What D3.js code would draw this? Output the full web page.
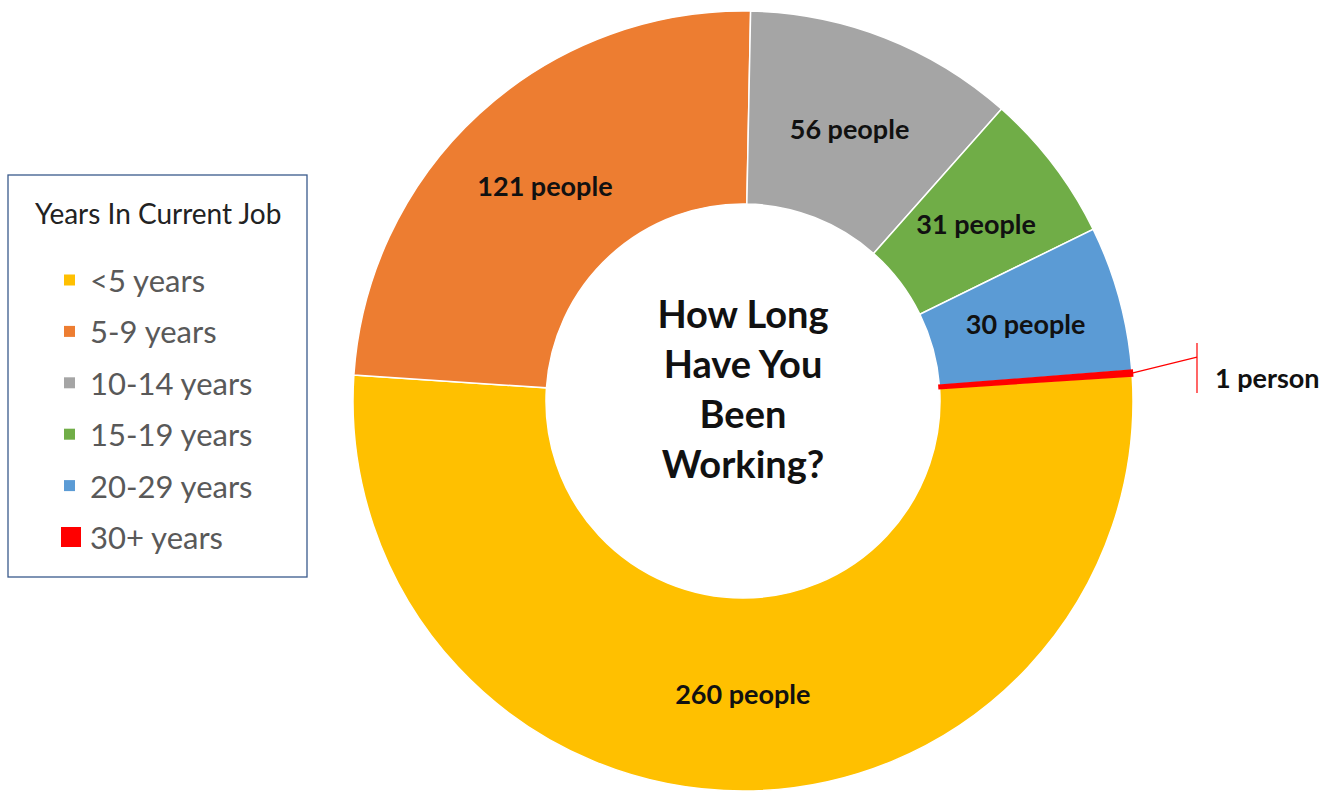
<!DOCTYPE html>
<html>
<head>
<meta charset="utf-8">
<script src="https://cdn.jsdelivr.net/npm/d3@7"></script>
<style>
  body { margin: 0; background: #fff; }
  svg { display: block; font-family: Lato, "Open Sans", sans-serif; }
</style>
</head>
<body>
<svg id="donut"></svg>
<script>
// chart data
const categories = ['<5 years', '5-9 years', '10-14 years', '15-19 years', '20-29 years', '30+ years'];
const counts = [260, 121, 56, 31, 30, 1];
const colors = ['#FFC000', '#ED7D31', '#A5A5A5', '#70AD47', '#5B9BD5', '#FF0000'];
const legendTitle = 'Years In Current Job';
const centerTitle = ['How Long', 'Have You', 'Been', 'Working?'];

const width = 1339;
const height = 792;
const cx = 743, cy = 401;
const outerR = 390, innerR = 197;
const firstAngle = 86.25 * Math.PI / 180; // first slice starts just above 3 o'clock

const svg = d3.select('#donut').attr('width', width).attr('height', height);

const rows = categories.map((c, i) => ({ cat: c, n: counts[i] }));
const color = d3.scaleOrdinal().domain(categories).range(colors);

const pie = d3.pie()
  .value(d => d.n)
  .sort(null)
  .startAngle(firstAngle)
  .endAngle(firstAngle + 2 * Math.PI);

const arc = d3.arc().innerRadius(innerR).outerRadius(outerR);
const labelArc = d3.arc().innerRadius(293).outerRadius(293);

const g = svg.append('g').attr('transform', `translate(${cx},${cy})`);
const slices = pie(rows);

g.selectAll('path.slice')
  .data(slices)
  .enter()
  .append('path')
  .attr('class', 'slice')
  .attr('d', arc)
  .attr('fill', d => color(d.data.cat))
  .attr('stroke', d => d.data.n === 1 ? color(d.data.cat) : '#fff')
  .attr('stroke-width', d => d.data.n === 1 ? 2.5 : 1.5);

// slice labels
g.selectAll('text.lbl')
  .data(slices.filter(d => d.data.n > 1))
  .enter()
  .append('text')
  .attr('class', 'lbl')
  .attr('transform', d => `translate(${labelArc.centroid(d)})`)
  .attr('text-anchor', 'middle')
  .attr('dominant-baseline', 'central')
  .style('font-weight', 'bold')
  .style('font-size', '27px')
  .attr('fill', '#111')
  .text(d => `${d.data.n} people`);

// callout for the tiny slice
slices.filter(d => d.data.n === 1).forEach(d => {
  const a = (d.startAngle + d.endAngle) / 2;
  const x0 = outerR * Math.sin(a), y0 = -outerR * Math.cos(a);
  const x1 = x0 + 65, y1 = y0 - 16;
  g.append('line')
    .attr('x1', x0).attr('y1', y0).attr('x2', x1).attr('y2', y1)
    .attr('stroke', color(d.data.cat)).attr('stroke-width', 1.2);
  g.append('line')
    .attr('x1', x1).attr('y1', y1 - 14).attr('x2', x1).attr('y2', y1 + 36)
    .attr('stroke', color(d.data.cat)).attr('stroke-width', 1.2);
  g.append('text')
    .attr('x', x1 + 18).attr('y', y1 + 20)
    .attr('dominant-baseline', 'central')
    .style('font-weight', 'bold')
    .style('font-size', '27px')
    .attr('fill', '#111')
    .text('1 person');
});

// center title
g.append('g').selectAll('text')
  .data(centerTitle)
  .enter()
  .append('text')
  .attr('x', 0)
  .attr('y', (d, i) => -88 + i * 50)
  .attr('text-anchor', 'middle')
  .attr('dominant-baseline', 'central')
  .style('font-weight', 'bold')
  .style('font-size', '38px')
  .attr('fill', '#111')
  .text(d => d);

// legend
const lg = svg.append('g').attr('transform', 'translate(8,175)');
lg.append('rect')
  .attr('width', 299).attr('height', 402)
  .attr('fill', '#fff')
  .attr('stroke', '#3A5A8C').attr('stroke-width', 1.3);
lg.append('text')
  .attr('x', 27).attr('y', 38)
  .attr('dominant-baseline', 'central')
  .style('font-size', '28px')
  .attr('fill', '#222')
  .text(legendTitle);

const item = lg.selectAll('g.item')
  .data(rows)
  .enter()
  .append('g')
  .attr('class', 'item')
  .attr('transform', (d, i) => `translate(0,${105 + i * 51.4})`);

item.append('rect')
  .attr('x', d => d.n === 1 ? 53 : 56)
  .attr('y', d => d.n === 1 ? -10 : -5.5)
  .attr('width', d => d.n === 1 ? 20 : 11)
  .attr('height', d => d.n === 1 ? 20 : 11)
  .attr('fill', d => color(d.cat));

item.append('text')
  .attr('x', 82)
  .attr('dominant-baseline', 'central')
  .style('font-size', '31px')
  .attr('fill', '#595959')
  .text(d => d.cat);
</script>
</body>
</html>
